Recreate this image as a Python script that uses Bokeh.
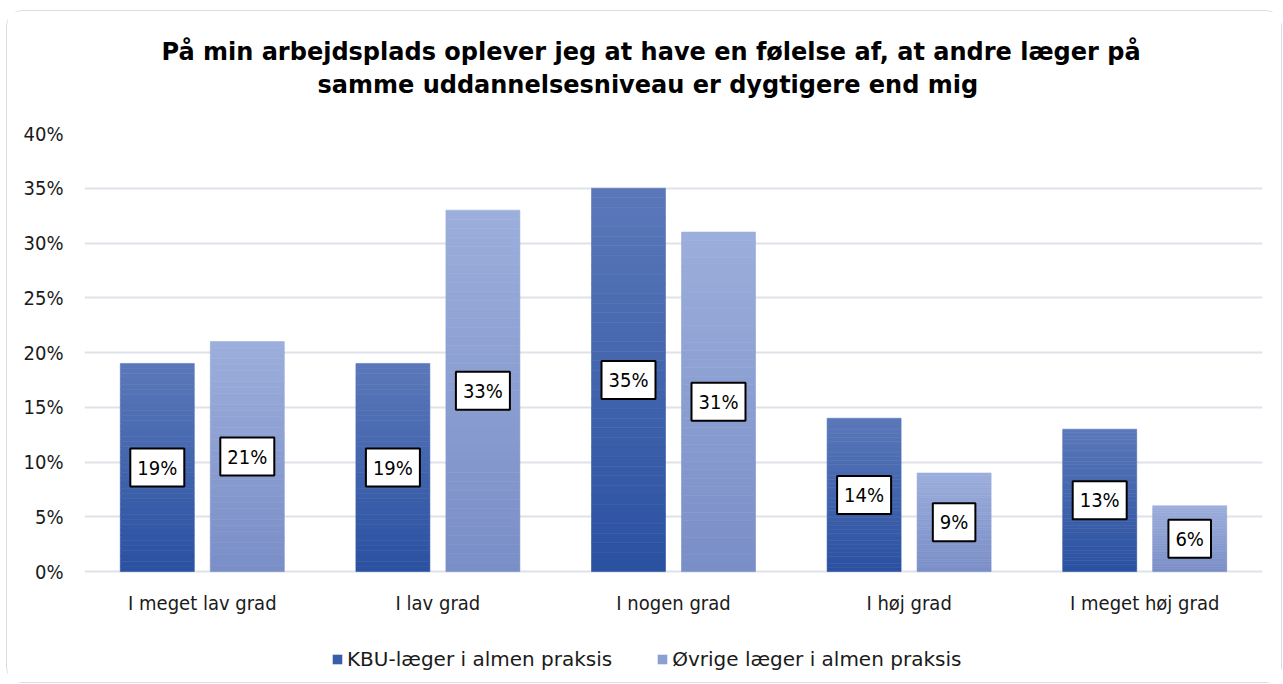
import numpy as np
from bokeh.plotting import figure
from bokeh.models import (ColumnDataSource, FactorRange, Legend, LegendItem, Title,
                          NumeralTickFormatter, FixedTicker, Range1d)
from bokeh.core.properties import value
from bokeh.transform import dodge
from bokeh.embed import file_html
from bokeh.resources import INLINE

# ---- data ----
categories = ["I meget lav grad", "I lav grad", "I nogen grad", "I høj grad", "I meget høj grad"]
kbu = [19, 19, 35, 14, 13]
ovrige = [21, 33, 31, 9, 6]
series_names = ["KBU-læger i almen praksis", "Øvrige læger i almen praksis"]
y_ticks = [0, 5, 10, 15, 20, 25, 30, 35, 40]
title_lines = ["På min arbejdsplads oplever jeg at have en følelse af, at andre læger på",
               "samme uddannelsesniveau er dygtigere end mig"]

# ---- style ----
FONT = "'Liberation Sans Narrow', 'DejaVu Sans Condensed', sans-serif"
TITLE_FONT = "DejaVu Sans"
grad_kbu = ("#2a50a1", "#5b79b9")   # bottom, top
grad_ovr = ("#7a8ec7", "#9caedb")
legend_cols = ["#3a5dab", "#8a9fd2"]
offsets = [-0.191, 0.191]
bar_w = 0.314
N = 40
Y_MIN = -0.0922          # room under the baseline for category labels and legend
CAT_LABEL_Y = -0.0283

def hex2rgb(h):
    h = h.lstrip("#")
    return np.array([int(h[i:i + 2], 16) for i in (0, 2, 4)], dtype=float)

def rgb2hex(c):
    return "#%02x%02x%02x" % tuple(int(round(v)) for v in c)

p = figure(x_range=FactorRange(*categories, range_padding=0), y_range=Range1d(Y_MIN, 0.40),
           frame_width=1178, frame_height=539, output_backend="svg", toolbar_location=None,
           min_border_left=77, min_border_right=19, min_border_bottom=10, min_border_top=0)
p.styles = {"border": "1px solid #d9dce3", "border-radius": "16px",
            "margin-left": "6px", "margin-top": "10px"}
p.outline_line_color = None
p.title = None

for vals, grad, off in [(kbu, grad_kbu, offsets[0]), (ovrige, grad_ovr, offsets[1])]:
    c0, c1 = hex2rgb(grad[0]), hex2rgb(grad[1])
    xs, bots, tops, cols = [], [], [], []
    for cat, v in zip(categories, vals):
        for i in range(N):
            t = (i + 0.5) / N
            xs.append(cat)
            bots.append(v / 100 * i / N)
            tops.append(v / 100 * (i + 1) / N)
            cols.append(rgb2hex(c0 + (c1 - c0) * t))
    src = ColumnDataSource(dict(x=xs, bottom=bots, top=tops, color=cols))
    p.vbar(x=dodge("x", off, range=p.x_range), bottom="bottom", top="top", width=bar_w,
           source=src, fill_color="color", line_color="color", line_width=0.6)

# value labels
for vals, off in [(kbu, offsets[0]), (ovrige, offsets[1])]:
    lsrc = ColumnDataSource(dict(x=categories, y=[v / 200 for v in vals],
                                 text=["%d%%" % v for v in vals]))
    p.text(x=dodge("x", off, range=p.x_range), y="y", text="text", source=lsrc,
           text_align="center", text_baseline="middle", text_font=value(FONT),
           text_font_size="20px", text_color="black",
           background_fill_color="white", border_line_color="black",
           border_line_width=2, padding=7)

# category labels (x axis hidden; drawn under the baseline)
csrc = ColumnDataSource(dict(x=categories, y=[CAT_LABEL_Y] * len(categories), text=categories))
p.text(x="x", y="y", text="text", source=csrc, text_align="center", text_baseline="middle",
       text_font=value(FONT), text_font_size="20px", text_color="#1a1a1a")
p.xaxis.visible = False

# legend (inside the frame, under the category labels); zero-height proxy bars
r1 = p.vbar(x=[categories[0]], bottom=[0], top=[0], width=0.01,
            fill_color=legend_cols[0], line_color=None)
r2 = p.vbar(x=[categories[0]], bottom=[0], top=[0], width=0.01,
            fill_color=legend_cols[1], line_color=None)
legend = Legend(items=[LegendItem(label=series_names[0], renderers=[r1]),
                       LegendItem(label=series_names[1], renderers=[r2])],
                orientation="horizontal", location=(247, 1), border_line_color=None,
                background_fill_alpha=0,
                label_text_font="DejaVu Sans", label_text_font_size="20px",
                label_text_color="#1a1a1a",
                glyph_width=12, glyph_height=12, spacing=44, label_standoff=4,
                margin=0, padding=4)
p.add_layout(legend, "center")

# y axis
p.yaxis.ticker = FixedTicker(ticks=[t / 100 for t in y_ticks])
p.yaxis.formatter = NumeralTickFormatter(format="0%")
ax = p.yaxis[0]
ax.axis_line_color = None
ax.major_tick_line_color = None
ax.minor_tick_line_color = None
ax.major_label_text_font = FONT
ax.major_label_text_font_size = "20px"
ax.major_label_text_color = "#1a1a1a"
ax.major_label_standoff = 15
p.xgrid.grid_line_color = None
p.ygrid.grid_line_color = "#dfe2e8"
p.ygrid.grid_line_width = 2

# title: spacer, line 2, line 1, top spacer (stacked outward from the frame)
p.add_layout(Title(text=" ", text_font_size="1px", standoff=30), "above")
p.add_layout(Title(text=title_lines[1], align="left", offset=233, text_font=TITLE_FONT,
                   text_font_style="bold", text_font_size="24px", text_color="black",
                   standoff=3), "above")
p.add_layout(Title(text=title_lines[0], align="left", offset=77, text_font=TITLE_FONT,
                   text_font_style="bold", text_font_size="24px", text_color="black",
                   standoff=3), "above")
p.add_layout(Title(text=" ", text_font_size="1px", standoff=20), "above")

open("out.html", "w").write(file_html(p, INLINE))
